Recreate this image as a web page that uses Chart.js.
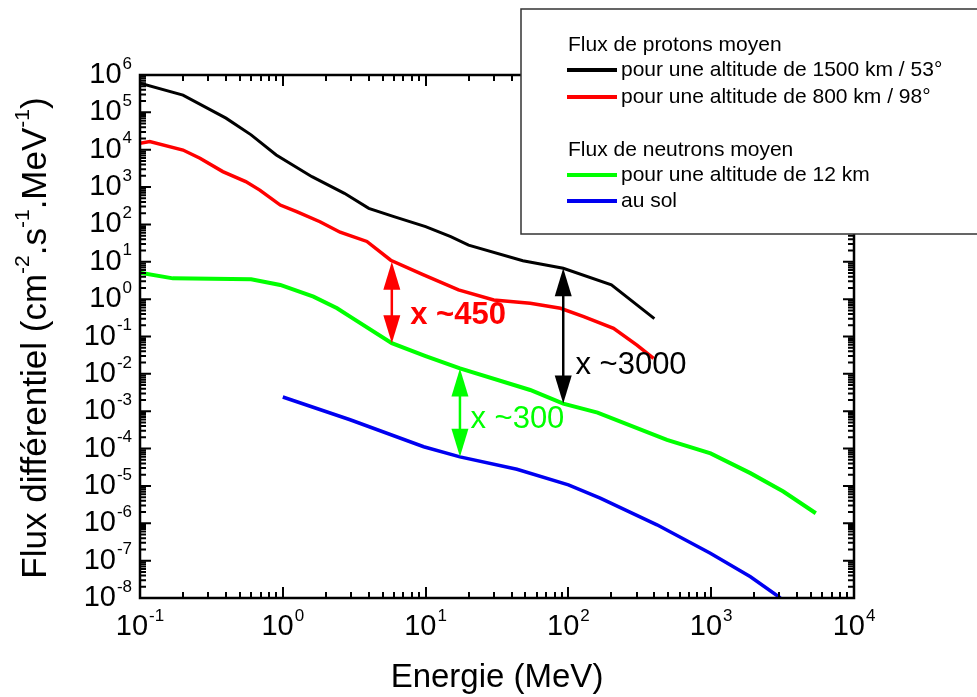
<!DOCTYPE html>
<html><head><meta charset="utf-8">
<script src="https://cdn.jsdelivr.net/npm/chart.js@4/dist/chart.umd.min.js"></script>
<style>html,body{margin:0;padding:0;background:#fff;overflow:hidden}</style>
</head><body>
<canvas id="c" width="977" height="697"></canvas>
<script>
// ---- data ----
const protons1500E = [0.1, 0.2, 0.4, 0.6, 0.9, 1.6, 2.7, 4, 6, 10, 15, 20, 48, 92, 200, 400];
const protons1500F = [6e5, 2.9e5, 7e4, 2.5e4, 7.2e3, 1.9e3, 680, 270, 162, 87, 47, 28, 10.7, 6.7, 2.4, 0.3];

const protons800E = [0.1, 0.117, 0.2, 0.263, 0.38, 0.55, 0.69, 0.96, 1.25, 1.82, 2.52, 2.96, 3.88, 5.7, 9.5, 17, 30, 54, 88, 128, 207, 302, 395];
const protons800F = [1.48e4, 1.65e4, 9.8e3, 5.9e3, 2.6e3, 1.4e3, 830, 330, 220, 118, 62, 50, 35, 11, 4.6, 1.77, 0.95, 0.78, 0.57, 0.34, 0.166, 0.059, 0.026];

const neutrons12E = [0.1, 0.17, 0.6, 0.96, 1.64, 2.4, 2.96, 5.8, 10, 17.4, 54, 92, 160, 490, 990, 1880, 3200, 5400];
const neutrons12F = [5.1, 3.6, 3.4, 2.4, 1.17, 0.57, 0.34, 0.066, 0.03, 0.014, 3.7e-3, 1.6e-3, 9.2e-4, 1.7e-4, 7.4e-5, 2.2e-5, 7.1e-6, 1.86e-6];

const neutronsSolE = [1, 2.96, 9.7, 17.4, 43.6, 100, 167, 417, 986, 1883, 3055];
const neutronsSolF = [2.4e-3, 5.9e-4, 1.12e-4, 6e-5, 2.8e-5, 1.07e-5, 4.7e-6, 9.1e-7, 1.58e-7, 3.7e-8, 1e-8];

const seriesLabels = ['pour une altitude de 1500 km / 53°', 'pour une altitude de 800 km / 98°', 'pour une altitude de 12 km', 'au sol'];
const legendHeadings = ['Flux de protons moyen', 'Flux de neutrons moyen'];
const xTickExps = [-1, 0, 1, 2, 3, 4];
const yTickExps = [6, 5, 4, 3, 2, 1, 0, -1, -2, -3, -4, -5, -6, -7, -8];

// ratio annotations (data coordinates)
const arrowE = [5.8, 92, 17.4];
const arrowTop = [10, 6.7, 0.014];
const arrowBottom = [0.066, 1.6e-3, 6e-5];
const annoText = ['x ~450', 'x ~3000', 'x ~300'];
const annoE = [7.8, 112, 20.6];
const annoF = [0.355, 0.0173, 6.2e-4];

// ---- styles ----
const FONT = '"Liberation Sans", Arial, Helvetica, sans-serif';
const colors = ['#000000', '#ff0000', '#00ff00', '#0000f0'];
const widths = [3, 3.5, 4, 3.5];
const annoColors = ['#ff0000', '#000000', '#00ff00'];
const annoBold = [true, false, false];

function pts(E, F) { return E.map((e, i) => ({ x: e, y: F[i] })); }

const seriesData = [pts(protons1500E, protons1500F), pts(protons800E, protons800F), pts(neutrons12E, neutrons12F), pts(neutronsSolE, neutronsSolF)];

function drawPow(ctx, exp, x, y, mode) {
  ctx.fillStyle = '#000';
  ctx.textBaseline = 'middle';
  ctx.textAlign = 'left';
  ctx.font = '29px ' + FONT;
  const w10 = ctx.measureText('10').width;
  ctx.font = '17px ' + FONT;
  const s = String(exp);
  const ws = ctx.measureText(s).width;
  let x0;
  if (mode === 'right') x0 = x - ws - 1 - w10;
  else x0 = x - (w10 + 1 + ws) / 2;
  ctx.font = '29px ' + FONT;
  ctx.fillText('10', x0, y);
  ctx.font = '17px ' + FONT;
  ctx.fillText(s, x0 + w10 + 1, y - 11);
}

const framePlugin = {
  id: 'frame',
  afterDatasetsDraw(chart) {
    const ctx = chart.ctx, a = chart.chartArea;
    const xs = chart.scales.x, ys = chart.scales.y;
    ctx.save();
    ctx.strokeStyle = '#000';
    ctx.lineWidth = 2;
    const majL = 11, minL = 6;
    for (let e = -1; e <= 4; e++) {
      for (let k = 1; k <= 9; k++) {
        const v = k * Math.pow(10, e);
        if (v > 1e4 * 1.0001) continue;
        const px = Math.round(xs.getPixelForValue(v));
        const L = k === 1 ? majL : minL;
        ctx.beginPath();
        ctx.moveTo(px, a.bottom); ctx.lineTo(px, a.bottom - L);
        ctx.moveTo(px, a.top); ctx.lineTo(px, a.top + L);
        ctx.stroke();
      }
    }
    for (let e = -8; e <= 6; e++) {
      for (let k = 1; k <= 9; k++) {
        const v = k * Math.pow(10, e);
        if (v > 1e6 * 1.0001) continue;
        const py = ys.getPixelForValue(v);
        const L = k === 1 ? majL : minL;
        ctx.beginPath();
        ctx.moveTo(a.left, py); ctx.lineTo(a.left + L, py);
        ctx.moveTo(a.right, py); ctx.lineTo(a.right - L, py);
        ctx.stroke();
      }
    }
    ctx.lineWidth = 2.5;
    ctx.strokeRect(a.left, a.top, a.right - a.left, a.bottom - a.top);
    yTickExps.forEach(e => drawPow(ctx, e, a.left - 8, ys.getPixelForValue(Math.pow(10, e)), 'right'));
    xTickExps.forEach(e => drawPow(ctx, e, xs.getPixelForValue(Math.pow(10, e)), a.bottom + 29, 'center'));
    ctx.fillStyle = '#000';
    ctx.font = '33px ' + FONT;
    ctx.textAlign = 'center';
    ctx.textBaseline = 'middle';
    ctx.fillText('Energie (MeV)', (a.left + a.right) / 2, 678);
    const parts = [['Flux différentiel (cm', 0], ['-2', 1], ['.s', 0], ['-1', 1], ['.MeV', 0], ['-1', 1], [')', 0]];
    const big = '35px ' + FONT, small = '21px ' + FONT;
    let tot = 0;
    parts.forEach(p => { ctx.font = p[1] ? small : big; tot += ctx.measureText(p[0]).width; });
    ctx.translate(36, 338);
    ctx.rotate(-Math.PI / 2);
    ctx.textAlign = 'left';
    let cx = -tot / 2;
    parts.forEach(p => {
      ctx.font = p[1] ? small : big;
      ctx.fillText(p[0], cx, p[1] ? -13 : 0);
      cx += ctx.measureText(p[0]).width;
    });
    ctx.restore();
  },
  afterDraw(chart) {
    const ctx = chart.ctx;
    const xs = chart.scales.x, ys = chart.scales.y;
    ctx.save();
    arrowE.forEach((e, i) => {
      const px = xs.getPixelForValue(e);
      const y1 = ys.getPixelForValue(arrowTop[i]);
      const y2 = ys.getPixelForValue(arrowBottom[i]);
      const hl = 28, hw = 8.5;
      ctx.strokeStyle = annoColors[i];
      ctx.fillStyle = annoColors[i];
      ctx.lineWidth = 2.5;
      ctx.beginPath(); ctx.moveTo(px, y1 + hl - 2); ctx.lineTo(px, y2 - hl + 2); ctx.stroke();
      ctx.beginPath(); ctx.moveTo(px, y1); ctx.lineTo(px - hw, y1 + hl); ctx.lineTo(px + hw, y1 + hl); ctx.closePath(); ctx.fill();
      ctx.beginPath(); ctx.moveTo(px, y2); ctx.lineTo(px - hw, y2 - hl); ctx.lineTo(px + hw, y2 - hl); ctx.closePath(); ctx.fill();
    });
    annoText.forEach((t, i) => {
      ctx.fillStyle = annoColors[i];
      ctx.font = (annoBold[i] ? 'bold 31px ' : '31px ') + FONT;
      ctx.textAlign = 'left';
      ctx.textBaseline = 'middle';
      ctx.fillText(t, xs.getPixelForValue(annoE[i]), ys.getPixelForValue(annoF[i]));
    });
    ctx.fillStyle = '#fff';
    ctx.fillRect(521, 9, 470, 225);
    ctx.strokeStyle = '#333';
    ctx.lineWidth = 1.5;
    ctx.strokeRect(521, 9, 470, 225);
    ctx.font = '21px ' + FONT;
    ctx.textBaseline = 'middle';
    ctx.textAlign = 'left';
    ctx.fillStyle = '#000';
    ctx.fillText(legendHeadings[0], 568, 45);
    ctx.fillText(legendHeadings[1], 568, 150);
    const rowY = [70, 97, 175, 201];
    seriesLabels.forEach((lab, i) => {
      ctx.strokeStyle = colors[i];
      ctx.lineWidth = 4;
      ctx.beginPath(); ctx.moveTo(567, rowY[i]); ctx.lineTo(617, rowY[i]); ctx.stroke();
      ctx.fillStyle = '#000';
      ctx.fillText(lab, 621, rowY[i]);
    });
    ctx.restore();
  }
};

new Chart(document.getElementById('c'), {
  type: 'line',
  data: {
    datasets: seriesData.map((d, i) => ({
      label: seriesLabels[i],
      data: d,
      borderColor: colors[i],
      borderWidth: widths[i],
      pointRadius: 0,
      tension: 0,
      fill: false
    }))
  },
  options: {
    responsive: false,
    animation: false,
    layout: { padding: { left: 140, top: 75, right: 123, bottom: 99 } },
    plugins: { legend: { display: false }, tooltip: { enabled: false } },
    scales: {
      x: { type: 'logarithmic', min: 0.1, max: 1e4, display: false },
      y: { type: 'logarithmic', min: 1e-8, max: 1e6, display: false }
    }
  },
  plugins: [framePlugin]
});
</script>
</body></html>
